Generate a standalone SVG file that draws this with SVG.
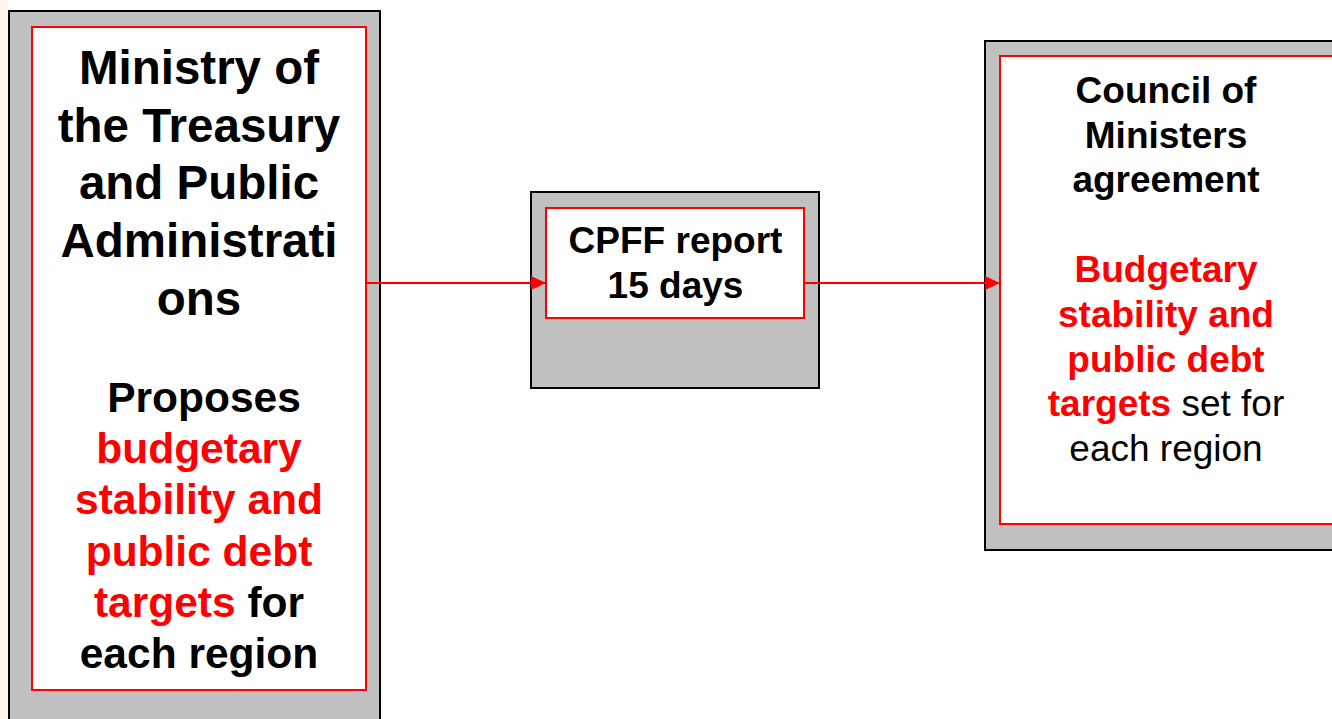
<svg xmlns="http://www.w3.org/2000/svg" width="1332" height="719" viewBox="0 0 1332 719">
<defs>
<style>
.outer{fill:#c0c0c0;stroke:#000;stroke-width:2}
.inner{fill:#fff;stroke:#ff0000;stroke-width:2}
.t{font-family:"Liberation Sans",Arial,sans-serif;text-anchor:middle;fill:#000;font-weight:bold}
.a{font-size:47.5px}
.b{font-size:42.5px}
.c{font-size:37px}
.r{fill:#ff0000}
.n{font-weight:normal}
.conn{stroke:#ff0000;stroke-width:2;fill:none}
</style>
<marker id="ah" markerWidth="16" markerHeight="14" refX="15" refY="7" orient="auto" markerUnits="userSpaceOnUse">
<path d="M0,0 L15,7 L0,14 Z" fill="#ff0000"/>
</marker>
</defs>
<rect x="0" y="0" width="1332" height="719" fill="#fff"/>
<rect x="0" y="0" width="8" height="719" fill="#fcf8ee"/>
<g id="ministry">
<rect class="outer" x="9" y="11" width="371" height="720"/>
<rect class="inner" x="32" y="27" width="334" height="663"/>
<text class="t a" x="199" y="84">Ministry of</text>
<text class="t a" x="199" y="141.7">the Treasury</text>
<text class="t a" x="199" y="199.4">and Public</text>
<text class="t a" x="199" y="257">Administrati</text>
<text class="t a" x="199" y="314.8">ons</text>
<text class="t b" x="204" y="412">Proposes</text>
<text class="t b r" x="199" y="463.2">budgetary</text>
<text class="t b r" x="199" y="514.4">stability and</text>
<text class="t b r" x="199" y="565.6">public debt</text>
<text class="t b" x="199" y="616.8"><tspan class="r">targets</tspan> for</text>
<text class="t b" x="199" y="668">each region</text>
</g>
<g id="cpff">
<rect class="outer" x="531" y="192" width="288" height="196"/>
<rect class="inner" x="546" y="208" width="258" height="110"/>
<text class="t c" x="675.5" y="253.3">CPFF report</text>
<text class="t c" x="675.5" y="298.3">15 days</text>
</g>
<g id="council">
<rect class="outer" x="985" y="41" width="360" height="509"/>
<rect class="inner" x="1000" y="56" width="345" height="468"/>
<text class="t c" x="1166" y="102.7">Council of</text>
<text class="t c" x="1166" y="147.5">Ministers</text>
<text class="t c" x="1166" y="192.3">agreement</text>
<text class="t c r" x="1166" y="281.9">Budgetary</text>
<text class="t c r" x="1166" y="326.7">stability and</text>
<text class="t c r" x="1166" y="371.5">public debt</text>
<text class="t c" x="1166" y="416.3"><tspan class="r">targets</tspan><tspan class="n"> set for</tspan></text>
<text class="t c n" x="1166" y="461.1">each region</text>
</g>
<g id="connectors">
<line class="conn" x1="366" y1="283" x2="546" y2="283" marker-end="url(#ah)"/>
<line class="conn" x1="805" y1="283" x2="1000" y2="283" marker-end="url(#ah)"/>
</g>
</svg>
